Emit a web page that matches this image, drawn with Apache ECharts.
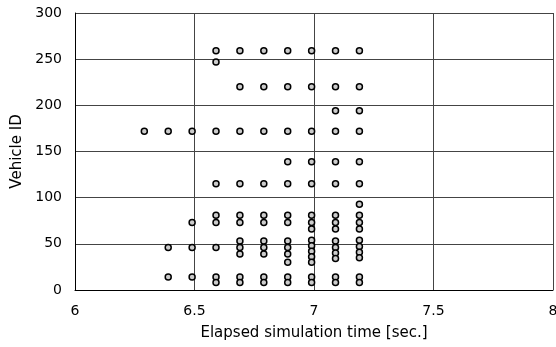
<!DOCTYPE html>
<html>
<head>
<meta charset="utf-8">
<script src="https://cdn.jsdelivr.net/npm/echarts@6/dist/echarts.min.js"></script>
<style>
  html, body { margin: 0; padding: 0; background: #fff; overflow: hidden; }
  #chart { width: 556px; height: 347px; }
</style>
</head>
<body>
<div id="chart"></div>
<script>
// Observation times [sec.] and the vehicle IDs seen at each time
const times = [6.29, 6.39, 6.49, 6.59, 6.69, 6.79, 6.89, 6.99, 7.09, 7.19];
const vehicleIds = [
  [172],
  [172, 46, 14],
  [172, 73, 46, 14],
  [259, 247, 172, 115, 81, 73, 46, 14, 8],
  [259, 220, 172, 115, 81, 73, 53, 46, 39, 14, 8],
  [259, 220, 172, 115, 81, 73, 53, 46, 39, 14, 8],
  [259, 220, 172, 139, 115, 81, 73, 53, 46, 39, 30, 14, 8],
  [259, 220, 172, 139, 115, 81, 73, 66, 54, 48, 42, 36, 30, 14, 8],
  [259, 220, 194, 172, 139, 115, 81, 73, 66, 53, 46, 40, 34, 14, 8],
  [259, 220, 194, 172, 139, 115, 93, 81, 73, 66, 54, 47, 41, 35, 14, 8]
];
const xTicks = [6, 6.5, 7, 7.5, 8];
const yTicks = [0, 50, 100, 150, 200, 250, 300];

const points = [];
times.forEach((t, i) => vehicleIds[i].forEach(id => points.push([t, id])));

const font = '"DejaVu Sans", Verdana, sans-serif';
const lineColor = '#444';

const chart = echarts.init(document.getElementById('chart'), null,
  { renderer: 'canvas', width: 556, height: 347 });
chart.setOption({
  animation: false,
  backgroundColor: '#fff',
  grid: {
    left: 75, top: 13, width: 478, height: 277,
    containLabel: false, outerBoundsMode: 'none'
  },
  xAxis: {
    type: 'value',
    min: xTicks[0], max: xTicks[xTicks.length - 1], interval: 0.5,
    name: 'Elapsed simulation time [sec.]',
    nameLocation: 'middle', nameGap: 36,
    nameTextStyle: { fontFamily: font, fontSize: 15, color: '#000' },
    axisLine: { show: true, lineStyle: { color: '#000', width: 1 } },
    axisTick: { show: false },
    axisLabel: { fontFamily: font, fontSize: 14, color: '#000', margin: 14,
      formatter: v => String(v) },
    splitLine: { show: true, lineStyle: { color: lineColor, width: 1 } }
  },
  yAxis: {
    type: 'value',
    min: yTicks[0], max: yTicks[yTicks.length - 1], interval: 50,
    name: 'Vehicle ID',
    nameLocation: 'middle', nameGap: 44,
    nameTextStyle: { fontFamily: font, fontSize: 15, color: '#000' },
    axisLine: { show: true, lineStyle: { color: '#000', width: 1 } },
    axisTick: { show: false },
    axisLabel: { fontFamily: font, fontSize: 14, color: '#000', margin: 13 },
    splitLine: { show: true, lineStyle: { color: lineColor, width: 1 } }
  },
  series: [{
    type: 'scatter',
    data: points,
    symbol: 'circle',
    symbolSize: 6,
    itemStyle: { color: '#ccc', borderColor: '#000', borderWidth: 1.5, opacity: 1 }
  }]
});
</script>
</body>
</html>
